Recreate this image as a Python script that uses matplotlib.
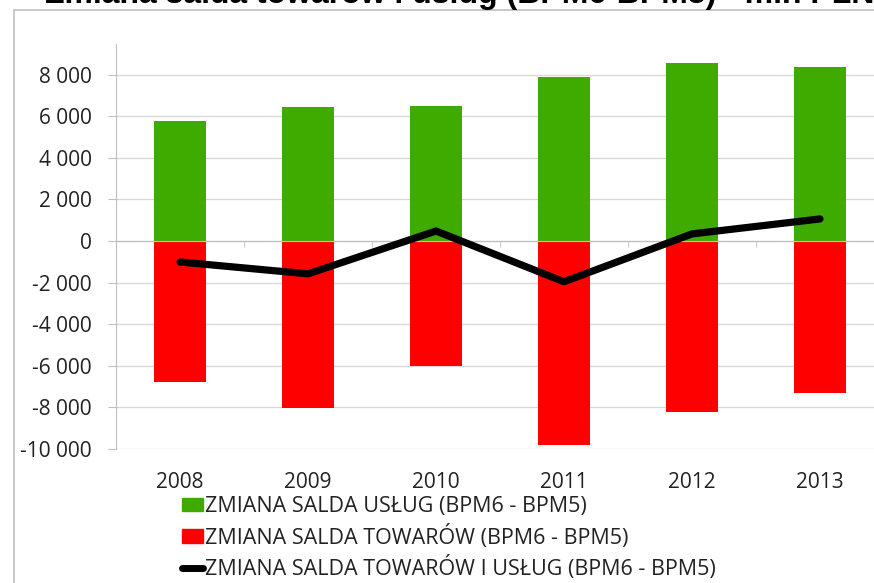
import numpy as np
import matplotlib.pyplot as plt
from matplotlib.patches import Rectangle
from matplotlib.lines import Line2D
from matplotlib.ticker import FuncFormatter

YEARS    = ['2008', '2009', '2010', '2011', '2012', '2013']
USLUGI   = [5750, 6430, 6480, 7870, 8540, 8350]
TOWARY   = [-6760, -8010, -6000, -9830, -8200, -7290]
RAZEM    = [-1010, -1580, 480, -1960, 340, 1060]

LBL_USL = 'ZMIANA SALDA USŁUG (BPM6 - BPM5)'
LBL_TOW = 'ZMIANA SALDA TOWARÓW (BPM6 - BPM5)'
LBL_RAZ = 'ZMIANA SALDA TOWARÓW I USŁUG (BPM6 - BPM5)'
TITLE   = 'Zmiana salda towarów i usług (BPM6-BPM5) - mln PLN'

GREEN = '#3faa00'
RED   = '#ff0000'
GRID  = '#d9d9d9'
FONT  = 'Open Sans'
FS    = 15

W, H = 874, 583


def main():
    fig = plt.figure(figsize=(W / 100, H / 100), dpi=100)
    ax = fig.add_axes([116 / W, 1 - 449 / H, (884 - 116) / W, (449 - 44) / H])

    x = np.arange(len(YEARS))
    ax.bar(x, USLUGI, width=0.4, color=GREEN, zorder=2)
    ax.bar(x, TOWARY, width=0.4, color=RED, zorder=2)
    ax.plot(x, RAZEM, color='black', lw=5.2, solid_capstyle='round',
            solid_joinstyle='round', zorder=3)

    ax.set_xlim(-0.5, len(YEARS) - 0.5)
    ax.set_ylim(-10000, 9470)
    ax.set_yticks(np.arange(-10000, 8001, 2000))
    ax.yaxis.set_major_formatter(FuncFormatter(lambda v, p: f'{int(v):,}'.replace(',', ' ')))
    ax.grid(axis='y', color=GRID, lw=1, zorder=0)

    for s in ['top', 'right']:
        ax.spines[s].set_visible(False)
    ax.spines['left'].set_color('#bfbfbf')
    ax.spines['bottom'].set_position(('data', 0))
    ax.spines['bottom'].set_color('#bfbfbf')

    ax.tick_params(axis='y', length=5.8, color='#bfbfbf', pad=11.5,
                   labelsize=FS, labelcolor='#222222')
    ax.set_xticks(x)
    ax.set_xticklabels(YEARS, fontsize=FS, color='#222222')
    ax.set_xticks(np.arange(len(YEARS) + 1) - 0.5, minor=True)
    ax.tick_params(axis='x', which='major', length=0, pad=166)
    ax.tick_params(axis='x', which='minor', length=4, color='#bfbfbf')
    for t in ax.get_xticklabels() + ax.get_yticklabels():
        t.set_family(FONT)

    handles = [
        Rectangle((0, 0), 1, 1, color=GREEN),
        Rectangle((0, 0), 1, 1, color=RED),
        Line2D([0], [0], color='black', lw=5, solid_capstyle='round'),
    ]
    fig.legend(handles, [LBL_USL, LBL_TOW, LBL_RAZ],
               loc='upper left', bbox_to_anchor=(182 / W, 1 - 496 / H),
               frameon=False, prop={'family': FONT, 'size': 15.5},
               handlelength=0.98, handleheight=0.6, handletextpad=0.1,
               labelspacing=0.35, borderpad=0, borderaxespad=0,
               labelcolor='#222222')

    # outer chart border (cropped)
    fig.patches.append(Rectangle((14 / W, -0.1), 1.2, 1.1 - 10 / H,
                                 transform=fig.transFigure, fill=False,
                                 edgecolor='#bfbfbf', lw=1.2))
    fig.text(45 / W, 1 - 3.5 / H, TITLE, ha='left', va='baseline',
             fontsize=23, fontweight='bold', family='Liberation Sans')

    fig.savefig('out.png', dpi=100)
    plt.close(fig)


if __name__ == '__main__':
    main()
